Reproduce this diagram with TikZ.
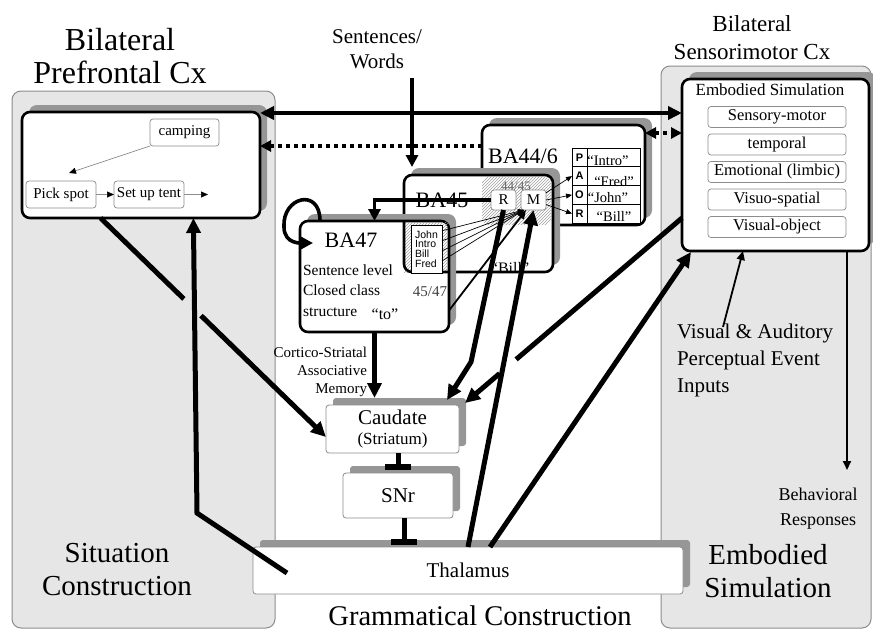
\documentclass[tikz,border=0pt]{standalone}
\usepackage{fontspec}
\setmainfont{Liberation Serif}
\newfontfamily\arialfont{Liberation Sans}
\usetikzlibrary{arrows.meta,positioning,calc,shadows,patterns}
\definecolor{panelgray}{RGB}{230,230,230}
\definecolor{paneledge}{RGB}{140,140,140}
\definecolor{shadegray}{RGB}{150,150,150}
\definecolor{hatchgray}{RGB}{160,160,160}
\newcommand{\fsz}[2]{\fontsize{#1}{#2}\selectfont}

\begin{document}
\begin{tikzpicture}[x=1pt,y=-1pt,
  every node/.style={inner sep=0pt,outer sep=0pt},
  panel/.style={draw=paneledge,line width=1pt,fill=panelgray,rounded corners=9pt,anchor=north west},
  areabox/.style={draw,line width=2.6pt,fill=white,rounded corners=8pt,anchor=north west,
    drop shadow={shadow xshift=7pt,shadow yshift=7pt,fill=shadegray,opacity=1}},
  greybox/.style={draw=paneledge,line width=0.8pt,fill=white,rounded corners=3pt,anchor=north west,
    drop shadow={shadow xshift=7pt,shadow yshift=7pt,fill=shadegray,opacity=1}},
  itembox/.style={draw=paneledge,line width=0.7pt,fill=white,rounded corners=3pt},
  cellbox/.style={draw,line width=0.7pt,fill=white,minimum height=18.75pt},
  fatarr/.style={line width=5pt,-{Triangle[length=15pt,width=14pt]}},
  midarr/.style={line width=3.6pt,-{Triangle[length=12pt,width=12pt]}},
  slimarr/.style={line width=1.8pt,-{Triangle[length=9pt,width=8pt]}},
  hairarr/.style={line width=0.7pt,-{Triangle[length=6pt,width=5pt]}},
  planarr/.style={draw=black!45,line width=0.7pt,-{Triangle[length=7pt,width=6pt,color=black]}},
  inhib/.style={line width=5pt,-{Bar[width=26pt,line width=6pt]}},
  dotarr/.style={line width=4pt,dash pattern=on 4pt off 4pt,>={Triangle[length=11pt,width=11pt]}}]
  \useasboundingbox (0,0) rectangle (873,632);

  % background areas
  \node[panel,minimum width=263pt,minimum height=537pt] (pfcpanel) at (12,91) {};
  \node[panel,minimum width=210pt,minimum height=562pt] (smpanel) at (661,66) {};

  \node[align=center,font=\fsz{32}{33}] (pfctitle) at (120,56) {Bilateral\\Prefrontal Cx};
  \node[align=center,font=\fsz{23}{28}] (smtitle) at (752,38) {Bilateral\\Sensorimotor Cx};
  \node[align=center,font=\fsz{21}{25}] (sentwords) at (377,49) {Sentences/\\Words};
  \node[align=center,font=\fsz{29}{33}] (sitlabel) at (117,570) {Situation\\Construction};
  \node[align=center,font=\fsz{29}{33}] (emblabel) at (768,571) {Embodied\\Simulation};
  \node[anchor=base,font=\fsz{28.5}{32}] (gramlabel) at (480,625) {Grammatical Construction};

  % situation model
  \node[areabox,minimum width=238pt,minimum height=106pt] (sit) at (22,112) {};
  \node[itembox,minimum width=69pt,minimum height=27pt,font=\fsz{15}{17}] (camping) at (184.5,132.5) {camping};
  \node[itembox,minimum width=70pt,minimum height=27pt,font=\fsz{15}{17}] (pickspot) at (61,194.5) {Pick spot};
  \node[itembox,minimum width=70pt,minimum height=27pt,font=\fsz{15}{17}] (setup) at (149,194.5) {Set up tent};
  \coordinate (pickin) at (69,173);
  \coordinate (tentout) at (208,194.5);
  \draw[planarr] (camping.south west) -- (pickin);
  \draw[planarr] (pickspot.east) -- (setup.west);
  \draw[planarr] (setup.east) -- (tentout);

  % embodied simulation
  \node[areabox,minimum width=187pt,minimum height=172pt] (es) at (682,79) {};
  \node[anchor=base,font=\fsz{17}{19}] (eshead) at (770,95) {Embodied Simulation};
  \node[itembox,minimum width=138pt,minimum height=21pt,font=\fsz{16.5}{18}] (sensory) at (777,117) {Sensory-motor};
  \node[itembox,minimum width=138pt,minimum height=21pt,font=\fsz{16.5}{18},below=6.5pt of sensory] (temporal) {temporal};
  \node[itembox,minimum width=138pt,minimum height=21pt,font=\fsz{16.5}{18},below=6.5pt of temporal] (emotional) {Emotional (limbic)};
  \node[itembox,minimum width=138pt,minimum height=21pt,font=\fsz{16.5}{18},below=6.5pt of emotional] (visuospatial) {Visuo-spatial};
  \node[itembox,minimum width=138pt,minimum height=21pt,font=\fsz{16.5}{18},below=6.5pt of visuospatial] (visualobj) {Visual-object};

  % BA44/6 with role table
  \node[areabox,minimum width=163pt,minimum height=100pt] (baff) at (482,125) {};
  \node[anchor=base,font=\fsz{22}{24}] (bafflabel) at (523,163) {BA44/6};
  \node[cellbox,minimum width=15pt,font=\arialfont\bfseries\fsz{11}{12}] (cellP) at (579.5,157.4) {P};
  \node[cellbox,minimum width=15pt,font=\arialfont\bfseries\fsz{11}{12}] (cellA) at (579.5,176.1) {A};
  \node[cellbox,minimum width=15pt,font=\arialfont\bfseries\fsz{11}{12}] (cellO) at (579.5,194.9) {O};
  \node[cellbox,minimum width=15pt,font=\arialfont\bfseries\fsz{11}{12}] (cellR) at (579.5,213.6) {R};
  \node[cellbox,minimum width=53pt] (valP) at (613.5,157.4) {};
  \node[cellbox,minimum width=53pt] (valA) at (613.5,176.1) {};
  \node[cellbox,minimum width=53pt] (valO) at (613.5,194.9) {};
  \node[cellbox,minimum width=53pt] (valR) at (613.5,213.6) {};
  \node[anchor=base,font=\fsz{14.5}{16}] (vintro) at (608,165) {``Intro''};
  \node[anchor=base,font=\fsz{14.5}{16}] (vfred) at (614,186) {``Fred''};
  \node[anchor=base,font=\fsz{14.5}{16}] (vjohn) at (608,202) {``John''};
  \node[anchor=base,font=\fsz{14.5}{16}] (vbill) at (614,221) {``Bill''};

  % BA45
  \node[areabox,minimum width=149pt,minimum height=97pt] (bafv) at (404,175) {};
  \fill[pattern=north east lines,pattern color=hatchgray,rounded corners=7pt]
    ([yshift=-1.5pt]baff.west |- bafv.north) rectangle ([xshift=-1.5pt]bafv.east |- baff.south);
  \node[font=\fsz{13}{14},text=black!60] (ovtop) at (516,186) {44/45};
  \node[anchor=base,font=\fsz{22}{24}] (bafvlabel) at (442,207) {BA45};
  \node[anchor=base,font=\fsz{16}{18}] (billfv) at (510,273) {``Bill''};
  \node[itembox,minimum width=25pt,minimum height=20pt,font=\fsz{15}{17}] (rbox) at (503.5,200) {R};
  \node[itembox,minimum width=25pt,minimum height=20pt,font=\fsz{15}{17}] (mbox) at (533.5,200) {M};

  % BA47
  \node[areabox,minimum width=149pt,minimum height=111pt] (bafs) at (300,221) {};
  \fill[pattern=north east lines,pattern color=hatchgray]
    ([yshift=-1.5pt]bafv.west |- bafs.north) rectangle ([xshift=-1.5pt]bafs.east |- bafv.south);
  \draw[line width=2.6pt,rounded corners=8pt] (bafv.west |- bafs.north) -- (bafv.south west) -- (bafs.east |- bafv.south);
  \node[draw,line width=0.7pt,fill=white,minimum width=31pt,minimum height=48pt,align=left,
    font=\arialfont\fsz{10.5}{9.8}] (words) at (426.5,249) {John\\Intro\\Bill\\Fred};
  \node[anchor=base,font=\fsz{22}{24}] (bafslabel) at (351,247) {BA47};
  \node[anchor=north west,align=left,font=\fsz{15.5}{20.5}] (bafsdesc) at (303,264.4) {Sentence level\\Closed class\\structure};
  \node[anchor=base,font=\fsz{16}{18}] (tolabel) at (385,319) {``to''};
  \node[anchor=base,font=\fsz{15}{17},text=black!75] (ovlow) at (430,296) {45/47};

  % basal ganglia and thalamus
  \node[greybox,minimum width=133pt,minimum height=48pt,align=center,font=\fsz{21}{20}] (caud) at (326,405)
    {Caudate\\\fsz{17}{20}(Striatum)};
  \node[greybox,minimum width=110pt,minimum height=45pt,font=\fsz{21}{24}] (snr) at (343,473) {SNr};
  \node[greybox,minimum width=430pt,minimum height=47pt,font=\fsz{21}{24}] (thal) at (253,547) {Thalamus};

  \node[anchor=east,align=right,font=\fsz{15}{18.3}] (cortico) at (367,372) {Cortico-Striatal\\Associative\\Memory};
  \node[anchor=north west,align=left,font=\fsz{21}{27}] (inputs) at (677,323.7) {Visual \& Auditory\\Perceptual Event\\Inputs};
  \node[align=center,font=\fsz{18}{25}] (behav) at (818,509) {Behavioral\\Responses};

  % cortical links
  \coordinate (topline) at (0,113);
  \coordinate (dotleft) at (0,146);
  \coordinate (dotright) at (0,133);
  \draw[line width=4pt,{Triangle[length=14pt,width=13pt]}-{Triangle[length=14pt,width=13pt]}]
    (sit.east |- topline) -- (es.west |- topline);
  \draw[dotarr,->] (baff.west |- dotleft) -- (sit.east |- dotleft);
  \draw[dotarr,<->] (baff.east |- dotright) -- (es.west |- dotright);

  \coordinate (sentin) at (412,78);
  \draw[midarr] (sentin) -- ([yshift=8pt]sentin |- bafv.north);
  \draw[midarr] (rbox.west) -| (bafs.north);
  \draw[midarr] ([xshift=20pt]bafs.north west) .. controls +(0,-34) and +(-2,-30) .. ([xshift=-16pt,yshift=-6pt]bafs.north west)
    .. controls +(0,18) and +(-10,0) .. ([xshift=13pt,yshift=-22pt]bafs.north west);

  \draw[slimarr] ([yshift=-34pt]bafs.east) -- ([xshift=5pt]mbox.south west);
  \foreach \f in {0.12,0.33,0.54,0.75}
    \draw[hairarr] ($(words.north east)!\f!(words.south east)$) -- ([xshift=3pt]mbox.south west);
  \draw[hairarr] (mbox.30) -- (cellA.west);
  \draw[hairarr] (mbox.east) -- (cellO.west);
  \draw[hairarr] (mbox.-20) -- (cellR.west);

  % loops through the basal ganglia
  \draw[fatarr] (bafs.south) -- ([yshift=7pt]bafs.south |- caud.north);
  \draw[inhib] (snr.north |- caud.south) -- ([yshift=3pt]snr.north);
  \draw[inhib] ([xshift=6pt]snr.south) -- ([xshift=6pt,yshift=2pt]snr.south |- thal.north);

  \coordinate (pfcout) at ($(sit.south west)!0.33!(sit.south east)$);
  \coordinate (caudin) at ([yshift=-8pt]caud.west);
  \draw[fatarr] (pfcout) -- (caudin);
  \draw[panelgray,line width=9pt] ($(pfcout)!0.37!(caudin)$) -- ($(pfcout)!0.445!(caudin)$);
  \coordinate (thalbend) at (197,513);
  \draw[fatarr] ([xshift=34pt,yshift=-2.5pt]thal.west) -- (thalbend) -- ($(sit.south west)!0.72!(sit.south east)$);

  \coordinate (rbend) at (471,362);
  \draw[fatarr] (rbox.south) -- (rbend) -- ([xshift=-12pt,yshift=5pt]caud.north east);

  \coordinate (esout) at ([yshift=-53pt]es.west);
  \coordinate (caudright) at ([xshift=6pt,yshift=2pt]caud.north east);
  \draw[fatarr] (esout) -- (caudright);
  \draw[white,line width=9pt] ($(esout)!0.765!(caudright)$) -- ($(esout)!0.84!(caudright)$);

  \draw[fatarr] (thal.north) -- (mbox.south);
  \draw[fatarr] ([xshift=22pt]thal.north) -- ([xshift=9pt,yshift=-1pt]es.south west);

  % sensory input and motor output
  \coordinate (inputsrc) at (723,327);
  \draw[slimarr] (inputsrc) -- ([xshift=61pt]es.south west);
  \coordinate (respin) at (847,470);
  \draw[slimarr] (es.south east -| respin) -- (respin);
\end{tikzpicture}
\end{document}
